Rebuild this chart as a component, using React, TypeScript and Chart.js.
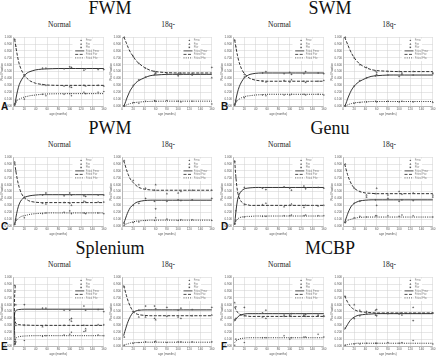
import React, { useEffect, useRef } from 'react';
import { Chart, registerables } from 'chart.js';
Chart.register(...registerables);

// ---------- shared axes / ages ----------
const X_MIN = 0, X_MAX = 160, X_STEP = 20;
const Y_MIN = 0, Y_MAX = 1, Y_STEP = 0.1;
const NORMAL_AGES = [3, 5, 20, 52, 58, 90, 100, 103, 125, 128, 150, 160];
const DEL_AGES = [4, 20, 30, 42, 58, 60, 80, 100, 105, 125, 160];
const FIT_X = [3, 5, 8, 11, 15, 20, 25, 30, 40, 50, 60, 80, 100, 120, 140, 160];
const FIT_X_SPLEN_N = [4, 3, 2.5, 2.5, 3, 4, 6, 10, 20, 40, 80, 160];

const LEGEND_MARK = ['Fmw', 'Fiw', 'Ffw'];
const LEGEND_LINE = ['Fitted Fmw', 'Fitted Fiw', 'Fitted Ffw'];

// ---------- FWM ----------
const FWM_N_FIT_A = [0.00, 0.10, 0.22, 0.31, 0.38, 0.44, 0.48, 0.50, 0.525, 0.535, 0.54, 0.545, 0.545, 0.545, 0.545, 0.545];
const FWM_N_FIT_B = [0.97, 0.86, 0.72, 0.61, 0.52, 0.45, 0.40, 0.365, 0.33, 0.315, 0.305, 0.30, 0.30, 0.30, 0.30, 0.30];
const FWM_N_FIT_C = [0.03, 0.06, 0.085, 0.10, 0.115, 0.13, 0.14, 0.15, 0.16, 0.17, 0.175, 0.178, 0.18, 0.18, 0.18, 0.18];
const FWM_N_PTS_A = [0.02, 0.08, 0.44, 0.55, 0.55, 0.54, 0.57, 0.56, 0.52, 0.54, 0.53, 0.53];
const FWM_N_PTS_B = [0.97, 0.87, 0.45, 0.31, 0.30, 0.29, 0.28, 0.27, 0.30, 0.29, 0.30, 0.29];
const FWM_N_PTS_C = [0.03, 0.05, 0.10, 0.17, 0.15, 0.17, 0.18, 0.15, 0.20, 0.18, 0.20, 0.21];

const FWM_D_FIT_A = [0.00, 0.03, 0.10, 0.16, 0.23, 0.29, 0.34, 0.37, 0.41, 0.44, 0.45, 0.46, 0.46, 0.46, 0.46, 0.46];
const FWM_D_FIT_B = [1.00, 0.97, 0.91, 0.85, 0.78, 0.72, 0.66, 0.62, 0.56, 0.52, 0.50, 0.485, 0.48, 0.48, 0.48, 0.48];
const FWM_D_FIT_C = [0.00, 0.005, 0.015, 0.025, 0.035, 0.045, 0.052, 0.057, 0.063, 0.067, 0.069, 0.07, 0.07, 0.07, 0.07, 0.07];
const FWM_D_PTS_A = [0.00, 0.30, 0.38, 0.42, 0.46, 0.47, 0.46, 0.44, 0.46, 0.45, 0.56];
const FWM_D_PTS_B = [1.00, 0.72, 0.62, 0.55, 0.50, 0.49, 0.48, 0.47, 0.48, 0.47, 0.41];
const FWM_D_PTS_C = [0.00, 0.05, 0.04, 0.07, 0.08, 0.07, 0.08, 0.07, 0.06, 0.07, 0.03];

// ---------- SWM ----------
const SWM_N_FIT_A = [0.00, 0.09, 0.20, 0.28, 0.35, 0.41, 0.44, 0.46, 0.475, 0.48, 0.48, 0.48, 0.48, 0.48, 0.48, 0.48];
const SWM_N_FIT_B = [0.96, 0.86, 0.73, 0.63, 0.54, 0.47, 0.43, 0.40, 0.375, 0.365, 0.36, 0.36, 0.36, 0.36, 0.36, 0.36];
const SWM_N_FIT_C = [0.03, 0.05, 0.08, 0.10, 0.12, 0.135, 0.145, 0.15, 0.16, 0.165, 0.17, 0.17, 0.17, 0.17, 0.17, 0.17];
const SWM_N_PTS_A = [0.02, 0.08, 0.42, 0.48, 0.50, 0.47, 0.49, 0.46, 0.47, 0.50, 0.48, 0.47];
const SWM_N_PTS_B = [0.96, 0.86, 0.46, 0.36, 0.35, 0.37, 0.35, 0.38, 0.36, 0.34, 0.36, 0.37];
const SWM_N_PTS_C = [0.02, 0.06, 0.12, 0.16, 0.15, 0.16, 0.16, 0.17, 0.17, 0.16, 0.17, 0.16];

const SWM_D_FIT_A = [0.00, 0.03, 0.10, 0.16, 0.23, 0.29, 0.33, 0.36, 0.40, 0.43, 0.44, 0.45, 0.45, 0.45, 0.45, 0.45];
const SWM_D_FIT_B = [1.00, 0.96, 0.90, 0.84, 0.77, 0.70, 0.65, 0.61, 0.56, 0.53, 0.515, 0.505, 0.50, 0.50, 0.50, 0.50];
const SWM_D_FIT_C = [0.00, 0.005, 0.015, 0.025, 0.035, 0.045, 0.05, 0.055, 0.06, 0.065, 0.065, 0.065, 0.065, 0.065, 0.065, 0.065];
const SWM_D_PTS_A = [0.00, 0.29, 0.37, 0.41, 0.44, 0.46, 0.45, 0.43, 0.46, 0.45, 0.48];
const SWM_D_PTS_B = [1.00, 0.70, 0.60, 0.56, 0.51, 0.49, 0.50, 0.50, 0.48, 0.50, 0.47];
const SWM_D_PTS_C = [0.00, 0.04, 0.05, 0.06, 0.07, 0.06, 0.07, 0.06, 0.07, 0.06, 0.05];

// ---------- PWM ----------
const PWM_N_FIT_A = [0.02, 0.12, 0.24, 0.32, 0.38, 0.415, 0.43, 0.44, 0.45, 0.455, 0.455, 0.455, 0.455, 0.455, 0.455, 0.455];
const PWM_N_FIT_B = [0.92, 0.80, 0.66, 0.56, 0.47, 0.41, 0.38, 0.36, 0.345, 0.34, 0.34, 0.34, 0.34, 0.34, 0.34, 0.34];
const PWM_N_FIT_C = [0.04, 0.07, 0.10, 0.12, 0.14, 0.15, 0.16, 0.17, 0.18, 0.185, 0.19, 0.19, 0.19, 0.19, 0.19, 0.19];
const PWM_N_PTS_A = [0.02, 0.10, 0.42, 0.45, 0.48, 0.44, 0.48, 0.45, 0.44, 0.43, 0.45, 0.45];
const PWM_N_PTS_B = [0.93, 0.80, 0.41, 0.33, 0.32, 0.34, 0.33, 0.30, 0.36, 0.35, 0.35, 0.35];
const PWM_N_PTS_C = [0.03, 0.08, 0.12, 0.18, 0.19, 0.20, 0.22, 0.18, 0.19, 0.18, 0.19, 0.18];

const PWM_D_FIT_A = [0.04, 0.08, 0.15, 0.21, 0.27, 0.31, 0.34, 0.355, 0.37, 0.375, 0.375, 0.375, 0.375, 0.375, 0.375, 0.375];
const PWM_D_FIT_B = [0.95, 0.90, 0.82, 0.75, 0.68, 0.63, 0.59, 0.56, 0.535, 0.525, 0.52, 0.52, 0.52, 0.52, 0.52, 0.52];
const PWM_D_FIT_C = [0.01, 0.02, 0.03, 0.04, 0.05, 0.06, 0.07, 0.075, 0.08, 0.085, 0.085, 0.085, 0.085, 0.085, 0.085, 0.085];
const PWM_D_PTS_A = [0.04, 0.30, 0.33, 0.40, 0.36, 0.25, 0.36, 0.38, 0.37, 0.38, 0.40];
const PWM_D_PTS_B = [0.95, 0.66, 0.60, 0.55, 0.52, 0.60, 0.47, 0.48, 0.50, 0.52, 0.52];
const PWM_D_PTS_C = [0.01, 0.05, 0.06, 0.08, 0.08, 0.12, 0.10, 0.08, 0.09, 0.09, 0.08];

// ---------- Genu ----------
const GENU_N_FIT_A = [0.02, 0.20, 0.38, 0.46, 0.51, 0.54, 0.55, 0.555, 0.56, 0.56, 0.56, 0.56, 0.56, 0.56, 0.56, 0.56];
const GENU_N_FIT_B = [0.95, 0.72, 0.50, 0.41, 0.35, 0.32, 0.31, 0.30, 0.30, 0.30, 0.30, 0.30, 0.30, 0.30, 0.30, 0.30];
const GENU_N_FIT_C = [0.03, 0.07, 0.10, 0.12, 0.13, 0.135, 0.14, 0.14, 0.145, 0.145, 0.145, 0.145, 0.145, 0.145, 0.145, 0.145];
const GENU_N_PTS_A = [0.03, 0.22, 0.56, 0.55, 0.53, 0.57, 0.55, 0.52, 0.58, 0.54, 0.56, 0.55];
const GENU_N_PTS_B = [0.94, 0.70, 0.31, 0.31, 0.33, 0.28, 0.30, 0.32, 0.27, 0.30, 0.29, 0.30];
const GENU_N_PTS_C = [0.03, 0.08, 0.13, 0.14, 0.14, 0.15, 0.15, 0.16, 0.15, 0.16, 0.15, 0.15];

const GENU_D_FIT_A = [0.05, 0.10, 0.17, 0.23, 0.29, 0.33, 0.35, 0.365, 0.375, 0.38, 0.38, 0.38, 0.38, 0.38, 0.38, 0.38];
const GENU_D_FIT_B = [0.90, 0.84, 0.75, 0.68, 0.61, 0.55, 0.52, 0.50, 0.48, 0.475, 0.47, 0.47, 0.47, 0.47, 0.47, 0.47];
const GENU_D_FIT_C = [0.05, 0.06, 0.08, 0.09, 0.10, 0.11, 0.12, 0.125, 0.13, 0.13, 0.13, 0.13, 0.13, 0.13, 0.13, 0.13];
const GENU_D_PTS_A = [0.05, 0.33, 0.36, 0.42, 0.38, 0.30, 0.40, 0.36, 0.38, 0.37, 0.42];
const GENU_D_PTS_B = [0.90, 0.55, 0.50, 0.45, 0.47, 0.55, 0.45, 0.50, 0.46, 0.48, 0.45];
const GENU_D_PTS_C = [0.05, 0.12, 0.14, 0.13, 0.15, 0.15, 0.15, 0.14, 0.16, 0.15, 0.13];

// ---------- Splenium ----------
const SPLEN_N_FIT_A = [0.02, 0.15, 0.30, 0.42, 0.48, 0.505, 0.52, 0.53, 0.535, 0.535, 0.535, 0.535];
const SPLEN_N_FIT_B = [0.88, 0.75, 0.62, 0.50, 0.40, 0.35, 0.32, 0.31, 0.305, 0.30, 0.30, 0.30];
const SPLEN_N_FIT_C = [0.03, 0.04, 0.05, 0.06, 0.08, 0.10, 0.12, 0.135, 0.145, 0.15, 0.15, 0.15];
const SPLEN_N_PTS_A = [0.02, 0.30, 0.60, 0.55, 0.55, 0.52, 0.52, 0.40, 0.58, 0.52, 0.53, 0.50];
const SPLEN_N_PTS_B = [0.88, 0.60, 0.30, 0.28, 0.30, 0.30, 0.38, 0.36, 0.30, 0.25, 0.31, 0.31];
const SPLEN_N_PTS_C = [0.04, 0.06, 0.08, 0.14, 0.15, 0.16, 0.17, 0.20, 0.21, 0.22, 0.16, 0.15];

const SPLEN_D_FIT_A = [0.15, 0.21, 0.29, 0.36, 0.43, 0.49, 0.51, 0.52, 0.525, 0.525, 0.525, 0.525, 0.525, 0.525, 0.525, 0.525];
const SPLEN_D_FIT_B = [0.88, 0.82, 0.73, 0.65, 0.57, 0.50, 0.47, 0.455, 0.445, 0.44, 0.44, 0.44, 0.44, 0.44, 0.44, 0.44];
const SPLEN_D_FIT_C = [0.01, 0.015, 0.025, 0.03, 0.04, 0.045, 0.05, 0.05, 0.055, 0.055, 0.055, 0.055, 0.055, 0.055, 0.055, 0.055];
const SPLEN_D_PTS_A = [0.13, 0.50, 0.52, 0.58, 0.58, 0.54, 0.56, 0.52, 0.55, 0.53, 0.56];
const SPLEN_D_PTS_B = [0.86, 0.50, 0.42, 0.42, 0.40, 0.38, 0.43, 0.42, 0.40, 0.44, 0.45];
const SPLEN_D_PTS_C = [0.01, 0.04, 0.05, 0.06, 0.06, 0.07, 0.05, 0.06, 0.06, 0.06, 0.06];

// ---------- MCBP ----------
const MCBP_N_FIT_A = [0.36, 0.39, 0.42, 0.44, 0.455, 0.465, 0.47, 0.47, 0.47, 0.47, 0.47, 0.47, 0.47, 0.47, 0.47, 0.47];
const MCBP_N_FIT_B = [0.57, 0.53, 0.49, 0.465, 0.45, 0.44, 0.435, 0.43, 0.43, 0.43, 0.43, 0.43, 0.43, 0.43, 0.43, 0.43];
const MCBP_N_FIT_C = [0.05, 0.07, 0.09, 0.10, 0.11, 0.115, 0.12, 0.12, 0.12, 0.12, 0.12, 0.12, 0.12, 0.12, 0.12, 0.12];
const MCBP_N_PTS_A = [0.38, 0.57, 0.56, 0.48, 0.52, 0.45, 0.45, 0.47, 0.45, 0.46, 0.45, 0.43];
const MCBP_N_PTS_B = [0.63, 0.40, 0.44, 0.42, 0.40, 0.43, 0.44, 0.43, 0.44, 0.43, 0.44, 0.44];
const MCBP_N_PTS_C = [0.01, 0.10, 0.05, 0.12, 0.12, 0.15, 0.10, 0.12, 0.13, 0.13, 0.17, 0.13];

const MCBP_D_FIT_A = [0.24, 0.27, 0.31, 0.35, 0.39, 0.42, 0.44, 0.45, 0.46, 0.465, 0.47, 0.47, 0.47, 0.47, 0.47, 0.47];
const MCBP_D_FIT_B = [0.73, 0.69, 0.64, 0.60, 0.56, 0.53, 0.51, 0.50, 0.49, 0.485, 0.48, 0.48, 0.48, 0.48, 0.48, 0.48];
const MCBP_D_FIT_C = [0.01, 0.015, 0.02, 0.025, 0.03, 0.035, 0.04, 0.04, 0.04, 0.04, 0.04, 0.04, 0.04, 0.04, 0.04, 0.04];
const MCBP_D_PTS_A = [0.26, 0.40, 0.44, 0.48, 0.45, 0.44, 0.47, 0.47, 0.45, 0.37, 0.48];
const MCBP_D_PTS_B = [0.72, 0.60, 0.52, 0.50, 0.52, 0.53, 0.48, 0.47, 0.48, 0.56, 0.48];
const MCBP_D_PTS_C = [0.01, 0.03, 0.03, 0.04, 0.04, 0.04, 0.05, 0.04, 0.05, 0.08, 0.03];

// ---------- figure layout ----------
const REGIONS = ['FWM', 'SWM', 'PWM', 'Genu', 'Splenium', 'MCBP'];
const PANEL_LETTERS = ['A', 'B', 'C', 'D', 'E', 'F'];
const GROUPS = ['Normal', '18q-'];
const COL_LEFT = [13, 122, 233, 343];
const COL_W = [93, 92, 93, 92];
const ROW_TOP = [35, 155, 275];
const PLOT_H = 71;
const Y_AXIS_W = 13;
const X_AXIS_H = 10;
const PAD_TOP = 2;
const PAD_RIGHT = 2;

type Spec = {
  col: number; row: number;
  ages: number[]; pa: number[]; pb: number[]; pc: number[];
  fx: number[]; fa: number[]; fb: number[]; fc: number[];
};

const SPECS: Spec[] = [
  { col: 0, row: 0, ages: NORMAL_AGES, pa: FWM_N_PTS_A, pb: FWM_N_PTS_B, pc: FWM_N_PTS_C, fx: FIT_X, fa: FWM_N_FIT_A, fb: FWM_N_FIT_B, fc: FWM_N_FIT_C },
  { col: 1, row: 0, ages: DEL_AGES, pa: FWM_D_PTS_A, pb: FWM_D_PTS_B, pc: FWM_D_PTS_C, fx: FIT_X, fa: FWM_D_FIT_A, fb: FWM_D_FIT_B, fc: FWM_D_FIT_C },
  { col: 2, row: 0, ages: NORMAL_AGES, pa: SWM_N_PTS_A, pb: SWM_N_PTS_B, pc: SWM_N_PTS_C, fx: FIT_X, fa: SWM_N_FIT_A, fb: SWM_N_FIT_B, fc: SWM_N_FIT_C },
  { col: 3, row: 0, ages: DEL_AGES, pa: SWM_D_PTS_A, pb: SWM_D_PTS_B, pc: SWM_D_PTS_C, fx: FIT_X, fa: SWM_D_FIT_A, fb: SWM_D_FIT_B, fc: SWM_D_FIT_C },
  { col: 0, row: 1, ages: NORMAL_AGES, pa: PWM_N_PTS_A, pb: PWM_N_PTS_B, pc: PWM_N_PTS_C, fx: FIT_X, fa: PWM_N_FIT_A, fb: PWM_N_FIT_B, fc: PWM_N_FIT_C },
  { col: 1, row: 1, ages: DEL_AGES, pa: PWM_D_PTS_A, pb: PWM_D_PTS_B, pc: PWM_D_PTS_C, fx: FIT_X, fa: PWM_D_FIT_A, fb: PWM_D_FIT_B, fc: PWM_D_FIT_C },
  { col: 2, row: 1, ages: NORMAL_AGES, pa: GENU_N_PTS_A, pb: GENU_N_PTS_B, pc: GENU_N_PTS_C, fx: FIT_X, fa: GENU_N_FIT_A, fb: GENU_N_FIT_B, fc: GENU_N_FIT_C },
  { col: 3, row: 1, ages: DEL_AGES, pa: GENU_D_PTS_A, pb: GENU_D_PTS_B, pc: GENU_D_PTS_C, fx: FIT_X, fa: GENU_D_FIT_A, fb: GENU_D_FIT_B, fc: GENU_D_FIT_C },
  { col: 0, row: 2, ages: NORMAL_AGES, pa: SPLEN_N_PTS_A, pb: SPLEN_N_PTS_B, pc: SPLEN_N_PTS_C, fx: FIT_X_SPLEN_N, fa: SPLEN_N_FIT_A, fb: SPLEN_N_FIT_B, fc: SPLEN_N_FIT_C },
  { col: 1, row: 2, ages: DEL_AGES, pa: SPLEN_D_PTS_A, pb: SPLEN_D_PTS_B, pc: SPLEN_D_PTS_C, fx: FIT_X, fa: SPLEN_D_FIT_A, fb: SPLEN_D_FIT_B, fc: SPLEN_D_FIT_C },
  { col: 2, row: 2, ages: NORMAL_AGES, pa: MCBP_N_PTS_A, pb: MCBP_N_PTS_B, pc: MCBP_N_PTS_C, fx: FIT_X, fa: MCBP_N_FIT_A, fb: MCBP_N_FIT_B, fc: MCBP_N_FIT_C },
  { col: 3, row: 2, ages: DEL_AGES, pa: MCBP_D_PTS_A, pb: MCBP_D_PTS_B, pc: MCBP_D_PTS_C, fx: FIT_X, fa: MCBP_D_FIT_A, fb: MCBP_D_FIT_B, fc: MCBP_D_FIT_C },
];

const INK = '#1e1e1e';
const MARK_INK = '#555';
const MARK_STYLES = ['rectRot', 'triangle', 'rect'];
const MARK_R = [0.9, 1.0, 0.75];
const LINE_DASH: number[][] = [[], [3, 1.5], [1, 1.2]];

const toPts = (xs: number[], ys: number[]) => xs.map((x, i) => ({ x, y: ys[i] }));

function drawMark(ctx: CanvasRenderingContext2D, style: string, x: number, y: number, r: number) {
  ctx.beginPath();
  if (style === 'rectRot') {
    ctx.moveTo(x, y - r); ctx.lineTo(x + r, y); ctx.lineTo(x, y + r); ctx.lineTo(x - r, y); ctx.closePath();
  } else if (style === 'triangle') {
    ctx.moveTo(x, y - r); ctx.lineTo(x + r, y + r * 0.8); ctx.lineTo(x - r, y + r * 0.8); ctx.closePath();
  } else {
    ctx.rect(x - r, y - r, 2 * r, 2 * r);
  }
  ctx.fill();
}

const inlineLegend = {
  id: 'inlineLegend',
  afterDatasetsDraw(chart: any) {
    const { ctx, chartArea: a } = chart;
    const w = a.right - a.left;
    const h = a.bottom - a.top;
    const bx = a.left + w * 0.655;
    const bw = w * 0.225;
    const by = a.top + h * 0.02;
    const row = 3.5;
    ctx.save();
    ctx.fillStyle = '#ffffff';
    ctx.fillRect(bx, by, bw, row * 6 + 1.5);
    ctx.font = '2.7px "Liberation Sans", Arial, sans-serif';
    ctx.textBaseline = 'middle';
    const lx0 = a.left + w * 0.685;
    const lx1 = a.left + w * 0.785;
    const tx = a.left + w * 0.8;
    for (let i = 0; i < 3; i++) {
      const y = by + 1.8 + i * row;
      ctx.fillStyle = MARK_INK;
      drawMark(ctx, MARK_STYLES[i], a.left + w * 0.75, y, MARK_R[i]);
      ctx.fillStyle = '#888';
      ctx.fillText(LEGEND_MARK[i], tx, y);
    }
    for (let i = 0; i < 3; i++) {
      const y = by + 1.8 + (i + 3) * row;
      ctx.strokeStyle = INK;
      ctx.lineWidth = 0.8;
      ctx.setLineDash(LINE_DASH[i]);
      ctx.beginPath(); ctx.moveTo(lx0, y); ctx.lineTo(lx1, y); ctx.stroke();
      ctx.setLineDash([]);
      ctx.fillStyle = '#888';
      ctx.fillText(LEGEND_LINE[i], tx, y);
    }
    ctx.restore();
  },
};

function buildConfig(s: Spec): any {
  const fits = [s.fa, s.fb, s.fc];
  const pts = [s.pa, s.pb, s.pc];
  const scatterSets = pts.map((p, i) => ({
    type: 'scatter',
    data: toPts(s.ages, p),
    pointStyle: MARK_STYLES[i],
    pointRadius: MARK_R[i],
    backgroundColor: MARK_INK,
    borderColor: MARK_INK,
    borderWidth: 0.2,
    clip: false,
  }));
  const lineSets = fits.map((f, i) => ({
    type: 'line',
    data: toPts(s.fx, f),
    borderColor: INK,
    borderWidth: 0.9,
    borderDash: LINE_DASH[i],
    pointRadius: 0,
    tension: 0.3,
    fill: false,
    clip: 1,
  }));
  const tickFont = { family: '"Liberation Sans", Arial, sans-serif', size: 3 };
  return {
    type: 'scatter',
    data: { datasets: [...scatterSets, ...lineSets] },
    options: {
      responsive: false,
      animation: false,
      events: [],
      layout: { padding: { top: PAD_TOP, right: PAD_RIGHT, left: 0, bottom: 0 } },
      plugins: { legend: { display: false }, title: { display: false }, tooltip: { enabled: false } },
      scales: {
        x: {
          type: 'linear', min: X_MIN, max: X_MAX,
          ticks: { stepSize: X_STEP, font: tickFont, color: '#555', padding: 1, maxRotation: 0 },
          grid: { color: '#cfcfcf', lineWidth: 0.5, drawTicks: false },
          border: { color: '#999', width: 0.6 },
          title: { display: true, text: 'age (months)', font: tickFont, color: '#555', padding: { top: 0.5, bottom: 0 } },
          afterFit: (sc: any) => { sc.height = X_AXIS_H; },
        },
        y: {
          type: 'linear', min: Y_MIN, max: Y_MAX,
          ticks: { stepSize: Y_STEP, font: tickFont, color: '#555', padding: 1, callback: (v: any) => Number(v).toFixed(3) },
          grid: { color: '#cfcfcf', lineWidth: 0.5, drawTicks: false },
          border: { color: '#999', width: 0.6 },
          title: { display: true, text: 'Pool Fraction', font: tickFont, color: '#555', padding: { top: 0.5, bottom: 0.5 } },
          afterFit: (sc: any) => { sc.width = Y_AXIS_W; },
        },
      },
    },
    plugins: [inlineLegend],
  };
}

function ChartBox({ spec }: { spec: Spec }) {
  const ref = useRef<HTMLCanvasElement>(null);
  const left = COL_LEFT[spec.col] - Y_AXIS_W;
  const top = ROW_TOP[spec.row] - PAD_TOP;
  const width = Y_AXIS_W + COL_W[spec.col] + PAD_RIGHT;
  const height = PAD_TOP + PLOT_H + X_AXIS_H;
  useEffect(() => {
    const chart = new Chart(ref.current as HTMLCanvasElement, buildConfig(spec));
    return () => chart.destroy();
  }, []);
  return (
    <canvas ref={ref} width={width} height={height}
      style={{ position: 'absolute', left, top, width, height }} />
  );
}

const serif = '"Times New Roman", "Liberation Serif", "DejaVu Serif", Times, serif';

export default function App() {
  return (
    <div style={{ position: 'fixed', left: 0, top: 0, width: 440, height: 359, background: '#fff', overflow: 'hidden' }}>
      {REGIONS.map((name, k) => {
        const half = k % 2;
        const row = Math.floor(k / 2);
        const cx = half === 0 ? 110 : 330;
        const cy = 8 + row * 120;
        return (
          <div key={name}>
            <div style={{ position: 'absolute', left: cx - 60, width: 120, top: cy - 11, height: 22, lineHeight: '22px', textAlign: 'center', fontFamily: serif, fontSize: 18, color: '#111' }}>{name}</div>
            {GROUPS.map((g, j) => {
              const col = half * 2 + j;
              const pcx = COL_LEFT[col] + COL_W[col] / 2;
              return (
                <div key={g} style={{ position: 'absolute', left: pcx - 30, width: 60, top: ROW_TOP[row] - 15, height: 10, lineHeight: '10px', textAlign: 'center', fontFamily: serif, fontSize: 7.5, color: '#222' }}>{g}</div>
              );
            })}
            <div style={{ position: 'absolute', left: half * 220 + 1, top: ROW_TOP[row] + 66, height: 12, lineHeight: '12px', fontFamily: '"Liberation Sans", Arial, sans-serif', fontWeight: 'bold', fontSize: 10, color: '#111' }}>{PANEL_LETTERS[k]}</div>
          </div>
        );
      })}
      {SPECS.map((s, i) => <ChartBox key={i} spec={s} />)}
    </div>
  );
}
